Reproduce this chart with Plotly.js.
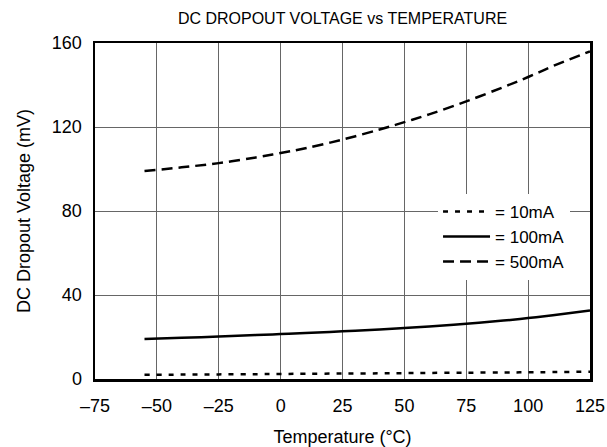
<!DOCTYPE html>
<html>
<head>
<meta charset="utf-8">
<script src="https://cdn.plot.ly/plotly-3.0.1.min.js"></script>
<style>html,body{margin:0;padding:0;background:#fff;}#chart{width:607px;height:447px;}</style>
</head>
<body>
<div id="chart"></div>
<script>
const temperature = [-55, -40, -25, -10, 0, 10, 25, 40, 50, 60, 75, 90, 100, 110, 125];
const v10mA  = [2.0, 2.1, 2.2, 2.3, 2.4, 2.5, 2.6, 2.7, 2.8, 2.9, 3.0, 3.1, 3.2, 3.3, 3.5];
const v100mA = [19.0, 19.6, 20.2, 20.9, 21.4, 21.9, 22.7, 23.6, 24.3, 25.0, 26.3, 27.8, 29.0, 30.4, 32.6];
const v500mA = [99.0, 100.8, 102.8, 105.5, 107.6, 109.9, 114.0, 118.8, 122.3, 126.0, 132.2, 139.0, 143.8, 149.0, 156.0];
const xTickVals = [-75, -50, -25, 0, 25, 50, 75, 100, 125];
const xTickText = ['\u201375', '\u201350', '\u201325', '0', '25', '50', '75', '100', '125'];
const yTickVals = [0, 40, 80, 120, 160];
const seriesNames = ['= 10mA', '= 100mA', '= 500mA'];

const font = {family: 'Liberation Sans, Arial, sans-serif', color: '#000'};

const traces = [
  {x: temperature, y: v10mA, name: seriesNames[0], mode: 'lines', line: {color: '#000', width: 2.5, dash: '5px,7px', shape: 'spline'}},
  {x: temperature, y: v100mA, name: seriesNames[1], mode: 'lines', line: {color: '#000', width: 2.5, shape: 'spline'}},
  {x: temperature, y: v500mA, name: seriesNames[2], mode: 'lines', line: {color: '#000', width: 2.5, dash: '11px,6px', shape: 'spline'}}
];

const layout = {
  width: 607, height: 447,
  margin: {l: 95, r: 17, t: 43, b: 68},
  paper_bgcolor: '#fff', plot_bgcolor: '#fff',
  font: Object.assign({size: 18}, font),
  title: {text: 'DC DROPOUT VOLTAGE vs TEMPERATURE', x: 0.5, xref: 'paper', y: 0.958, yref: 'container', yanchor: 'middle', font: Object.assign({size: 16}, font)},
  xaxis: {
    range: [-75, 125], tickvals: xTickVals, ticktext: xTickText,
    showgrid: true, gridcolor: '#666', gridwidth: 1,
    showline: true, linecolor: '#000', linewidth: 2.5, mirror: true,
    zeroline: false, ticks: 'outside', ticklen: 9, tickcolor: 'rgba(0,0,0,0)',
    tickfont: Object.assign({size: 18}, font),
    title: {text: 'Temperature (\u00B0C)', font: Object.assign({size: 18}, font), standoff: 18}
  },
  yaxis: {
    range: [0, 160], tickvals: yTickVals,
    showgrid: true, gridcolor: '#666', gridwidth: 1,
    showline: true, linecolor: '#000', linewidth: 2.5, mirror: true,
    zeroline: false, ticks: 'outside', ticklen: 7, tickcolor: 'rgba(0,0,0,0)',
    tickfont: Object.assign({size: 18}, font),
    title: {text: 'DC Dropout Voltage (mV)', font: Object.assign({size: 18}, font), standoff: 17}
  },
  showlegend: true,
  legend: {
    x: 0.693, y: 0.551, xanchor: 'left', yanchor: 'top',
    bgcolor: '#fff', borderwidth: 0,
    font: Object.assign({size: 17}, font),
    tracegroupgap: 0, itemwidth: 47
  }
};

Plotly.newPlot('chart', traces, layout, {displayModeBar: false, staticPlot: true});
</script>
</body>
</html>
